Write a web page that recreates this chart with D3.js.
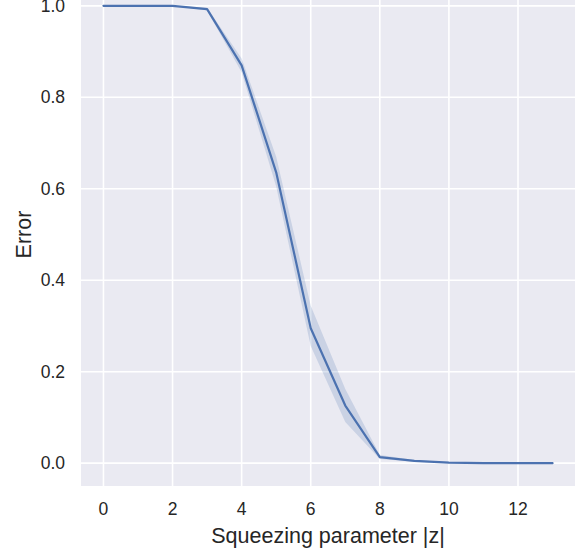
<!DOCTYPE html>
<html>
<head>
<meta charset="utf-8">
<script src="https://cdn.jsdelivr.net/npm/d3@7"></script>
<style>
  body { margin: 0; background: #fff; }
  svg { display: block; font-family: "Liberation Sans", Arial, sans-serif; }
</style>
</head>
<body>
<svg id="chart" width="585" height="552"></svg>
<script>
// squeezing parameter |z|
const zValues = [0, 1, 2, 3, 4, 5, 6, 7, 8, 9, 10, 11, 12, 13]
// mean error
const errMean = [1.0, 1.0, 1.0, 0.993, 0.87, 0.636, 0.295, 0.126, 0.013, 0.005, 0.001, 0.0, 0.0, 0.0]
// confidence band
const errLow = [1.0, 1.0, 1.0, 0.99, 0.855, 0.605, 0.256, 0.09, 0.009, 0.003, 0.0, 0.0, 0.0, 0.0]
const errHigh = [1.0, 1.0, 1.0, 0.996, 0.885, 0.67, 0.344, 0.162, 0.018, 0.007, 0.002, 0.0, 0.0, 0.0]

const xTicks = [0, 2, 4, 6, 8, 10, 12]
const yTicks = [0.0, 0.2, 0.4, 0.6, 0.8, 1.0]

const svg = d3.select('#chart')
const plotLeft = 81, plotRight = 575, plotTop = -17, plotBottom = 486

const x = d3.scaleLinear().domain([-0.65, 13.65]).range([plotLeft, plotRight])
const y = d3.scaleLinear().domain([-0.05, 1.05]).range([plotBottom, plotTop])

const textColor = '#262626'
const lineColor = '#4c72b0'

svg.append('rect')
  .attr('x', plotLeft).attr('y', plotTop)
  .attr('width', plotRight - plotLeft).attr('height', plotBottom - plotTop)
  .attr('fill', '#eaeaf2')

const grid = svg.append('g')
grid.selectAll('line.gx').data(xTicks).join('line')
  .attr('class', 'gx')
  .attr('x1', (d) => x(d)).attr('x2', (d) => x(d))
  .attr('y1', plotTop).attr('y2', plotBottom)
  .attr('stroke', '#fff').attr('stroke-width', 1.6)
grid.selectAll('line.gy').data(yTicks).join('line')
  .attr('class', 'gy')
  .attr('x1', plotLeft).attr('x2', plotRight)
  .attr('y1', (d) => y(d)).attr('y2', (d) => y(d))
  .attr('stroke', '#fff').attr('stroke-width', 1.6)

const pts = zValues.map((z, i) => ({ z, m: errMean[i], lo: errLow[i], hi: errHigh[i] }))

const band = d3.area()
  .x((d) => x(d.z))
  .y0((d) => y(d.lo))
  .y1((d) => y(d.hi))
svg.append('path')
  .datum(pts)
  .attr('d', band)
  .attr('fill', lineColor)
  .attr('fill-opacity', 0.2)

const line = d3.line()
  .x((d) => x(d.z))
  .y((d) => y(d.m))
svg.append('path')
  .datum(pts)
  .attr('d', line)
  .attr('fill', 'none')
  .attr('stroke', lineColor)
  .attr('stroke-width', 2.2)
  .attr('stroke-linejoin', 'round')
  .attr('stroke-linecap', 'round')

// tick labels
svg.append('g').selectAll('text').data(xTicks).join('text')
  .attr('x', (d) => x(d))
  .attr('y', 509)
  .attr('dy', '0.35em')
  .attr('text-anchor', 'middle')
  .attr('font-size', 17.5)
  .attr('fill', textColor)
  .text((d) => d)

svg.append('g').selectAll('text').data(yTicks).join('text')
  .attr('x', 65)
  .attr('y', (d) => y(d))
  .attr('dy', '0.35em')
  .attr('text-anchor', 'end')
  .attr('font-size', 17.5)
  .attr('fill', textColor)
  .text((d) => d.toFixed(1))

// axis titles
svg.append('text')
  .attr('x', (plotLeft + plotRight) / 2)
  .attr('y', 543)
  .attr('text-anchor', 'middle')
  .attr('font-size', 21.5)
  .attr('fill', textColor)
  .text('Squeezing parameter |z|')

svg.append('text')
  .attr('transform', `translate(31,${y(0.5)}) rotate(-90)`)
  .attr('text-anchor', 'middle')
  .attr('font-size', 21.5)
  .attr('fill', textColor)
  .text('Error')
</script>
</body>
</html>
